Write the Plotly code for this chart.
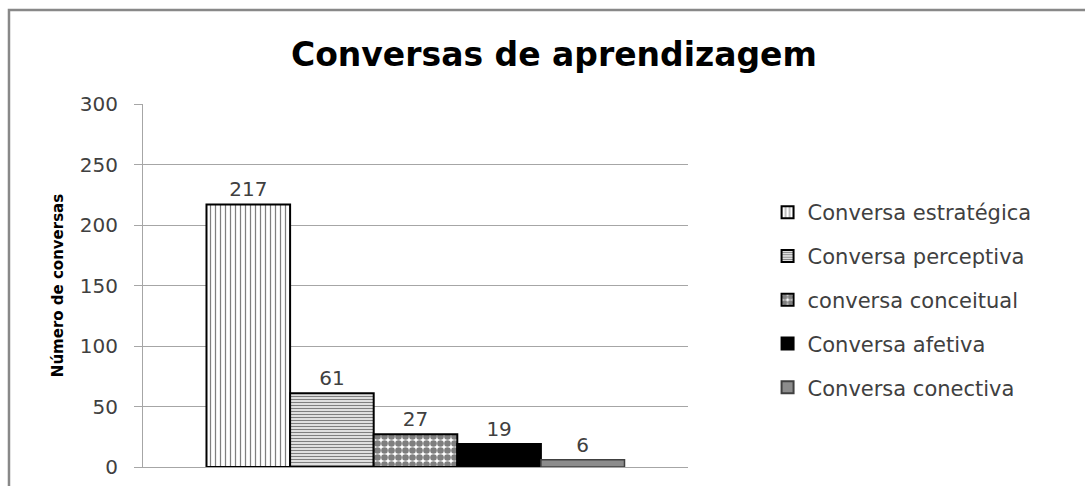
import plotly.graph_objects as go

categories = ["Conversas"]
series_names = ["Conversa estratégica", "Conversa perceptiva", "conversa conceitual",
                "Conversa afetiva", "Conversa conectiva"]
series_values = [217, 61, 27, 19, 6]
y_ticks = [0, 50, 100, 150, 200, 250, 300]

FONT = "DejaVu Sans"
TXT = "#404040"

styles = [
    dict(color="white", pattern=dict(shape="|", fgcolor="black", bgcolor="white", size=5, solidity=0.25, fillmode="overlay"), line=dict(color="black", width=2)),
    dict(color="white", pattern=dict(shape="-", fgcolor="black", bgcolor="white", size=3, solidity=0.5, fillmode="overlay"), line=dict(color="black", width=2)),
    dict(color="white", pattern=dict(shape=".", fgcolor="black", bgcolor="white", size=7, solidity=0.7, fillmode="overlay"), line=dict(color="black", width=2)),
    dict(color="black", line=dict(color="black", width=2)),
    dict(color="#8c8c8c", line=dict(color="#404040", width=1.5)),
]

fig = go.Figure()
for i, (name, val, st) in enumerate(zip(series_names, series_values, styles)):
    fig.add_trace(go.Bar(
        x=categories, y=[val], name=name, marker=st, legendgroup=f"g{i}",
        text=[str(val)], textposition="outside", cliponaxis=False,
        textfont=dict(family=FONT, size=20, color=TXT),
    ))

fig.update_layout(
    width=1085, height=486,
    margin=dict(l=143, r=397, t=104, b=19, autoexpand=False),
    paper_bgcolor="white", plot_bgcolor="white",
    barmode="group", bargap=0.233, bargroupgap=0,
    font=dict(family=FONT, color=TXT),
    title=dict(text="<b>Conversas de aprendizagem</b>", x=0.754, xanchor="center",
               xref="paper", y=0.887, yanchor="middle",
               font=dict(family=FONT, size=33, color="black")),
    showlegend=True,
    legend=dict(x=1.146, xanchor="left", y=0.46, yanchor="middle",
                font=dict(family=FONT, size=21, color=TXT),
                tracegroupgap=13.5, itemsizing="constant",
                bgcolor="rgba(0,0,0,0)"),
    xaxis=dict(showticklabels=False, showgrid=False, showline=True, linecolor="#a6a6a6",
               linewidth=1, ticks="", zeroline=False, automargin=False),
    yaxis=dict(range=[0, 300], tickvals=y_ticks, showgrid=True, gridcolor="#a6a6a6",
               gridwidth=1, showline=True, linecolor="#a6a6a6", linewidth=1,
               ticks="outside", ticklen=8, tickcolor="#a6a6a6", ticklabelstandoff=12,
               tickfont=dict(family=FONT, size=20, color=TXT), zeroline=False,
               automargin=False,
               title=dict(text="<b>Número de conversas</b>", standoff=12,
                          font=dict(family=FONT, size=15, color="black"))),
    shapes=[dict(type="rect", xref="paper", yref="paper", x0=-0.2459, x1=2.0,
                 y0=-1.0, y1=1.259, line=dict(color="#888888", width=2.5),
                 fillcolor="rgba(0,0,0,0)", layer="below")],
)

fig.write_html("out.html", config={"displayModeBar": False},
               post_script="document.body.style.margin='0';")
